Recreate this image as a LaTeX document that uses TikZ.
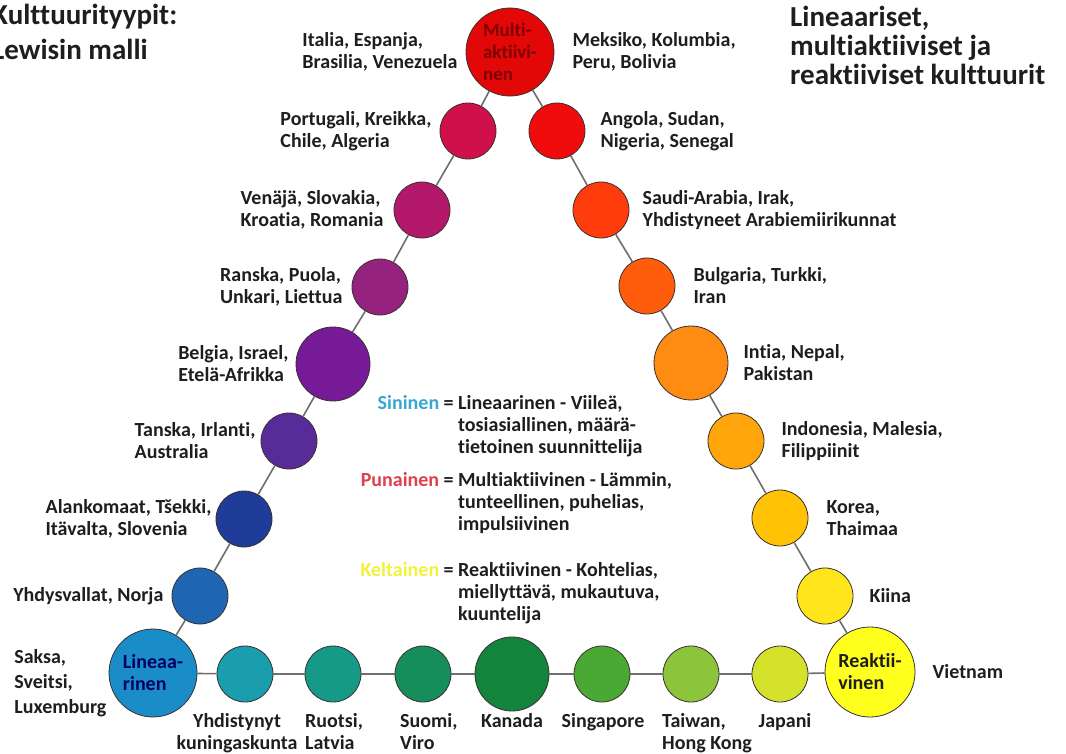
\documentclass[tikz,border=0pt]{standalone}
\usepackage{fontspec}
\setmainfont{Carlito}[Ligatures=NoCommon]
\usetikzlibrary{positioning}

\definecolor{teksti}{HTML}{1E1E1E}
\definecolor{viiva}{HTML}{6E6E6E}
\definecolor{reuna}{HTML}{3A3030}
\definecolor{cMulti}{HTML}{E20808}
\definecolor{cPort}{HTML}{D0104A}
\definecolor{cVen}{HTML}{B4186A}
\definecolor{cRan}{HTML}{962280}
\definecolor{cBel}{HTML}{761A98}
\definecolor{cTan}{HTML}{582C98}
\definecolor{cAla}{HTML}{1E3C98}
\definecolor{cYhv}{HTML}{1E66B2}
\definecolor{cLin}{HTML}{1A8CC8}
\definecolor{cYhd}{HTML}{1A9EAE}
\definecolor{cRuo}{HTML}{169A88}
\definecolor{cSuo}{HTML}{168E5C}
\definecolor{cKan}{HTML}{12843C}
\definecolor{cSin}{HTML}{4AA834}
\definecolor{cTai}{HTML}{8CC43C}
\definecolor{cJap}{HTML}{D4E22C}
\definecolor{cReak}{HTML}{FFFF1E}
\definecolor{cKii}{HTML}{FFE61C}
\definecolor{cKor}{HTML}{FFC204}
\definecolor{cInd}{HTML}{FFA60C}
\definecolor{cInt}{HTML}{FF8C12}
\definecolor{cBul}{HTML}{FF5C0C}
\definecolor{cSau}{HTML}{FF3C0C}
\definecolor{cAng}{HTML}{F00C0C}
\definecolor{sininen}{HTML}{3AA6D2}
\definecolor{punainen}{HTML}{E0404E}
\definecolor{keltainen}{HTML}{F2F23C}

\tikzset{
  pallo/.style={circle,draw=reuna,line width=0.8pt,minimum size=56pt,inner sep=0pt},
  iso/.style={pallo,minimum size=74pt},
  paa/.style={pallo,minimum size=88pt,align=left},
  maa/.style={align=left,inner sep=0pt,text=teksti},
  yhteys/.style={draw=viiva,line width=1.6pt},
  otsikko/.style={align=left,inner sep=0pt,text=teksti,font=\fontsize{29}{35}\selectfont\bfseries}
}

\begin{document}
\begin{tikzpicture}[x=1pt,y=-1pt,font=\fontsize{20}{22}\selectfont\bfseries]
    \path[use as bounding box,fill=white] (0,0) rectangle (1066,753);

    % otsikot
    \node[otsikko,anchor=north west] (vasOts) at (-8,4) {Kulttuurityypit:\\Lewisin malli};
    \node[otsikko,anchor=north west,font=\fontsize{29}{29}\selectfont\bfseries] (oikOts) at (790,6) {Lineaariset,\\multiaktiiviset ja\\reaktiiviset kulttuurit};

    % kulmat
    \node[paa,fill=cMulti,text=red!50!black,font=\fontsize{19}{22}\selectfont\bfseries] (multi) at (510,52) {Multi-\\aktiivi-\\nen};
    \node[paa,fill=cLin,text=blue!40!black] (lin) at (153,673) {Lineaa-\\rinen};
    \node[paa,fill=cReak,text=teksti,minimum size=90pt] (reak) at (870,672) {Reaktii-\\vinen};

    % vasen reuna
    \node[pallo,fill=cPort] (port) at (468,131) {};
    \node[pallo,fill=cVen] (venaja) at (422,210) {};
    \node[pallo,fill=cRan] (ranska) at (380,287) {};
    \node[iso,fill=cBel] (belgia) at (333,364) {};
    \node[pallo,fill=cTan] (tanska) at (289,441) {};
    \node[pallo,fill=cAla] (alank) at (244,519) {};
    \node[pallo,fill=cYhv] (yhdysv) at (200,596) {};

    % alareuna
    \node[pallo,fill=cYhd] (yhdist) at (245,674) {};
    \node[pallo,fill=cRuo] (ruotsi) at (333,674) {};
    \node[pallo,fill=cSuo] (suomi) at (423,674) {};
    \node[iso,fill=cKan] (kanada) at (512,674) {};
    \node[pallo,fill=cSin] (singa) at (602,674) {};
    \node[pallo,fill=cTai] (taiwan) at (691,674) {};
    \node[pallo,fill=cJap] (japani) at (780,674) {};

    % oikea reuna
    \node[pallo,fill=cAng] (angola) at (557,131) {};
    \node[pallo,fill=cSau] (saudi) at (601,210) {};
    \node[pallo,fill=cBul] (bulg) at (647,286) {};
    \node[iso,fill=cInt] (intia) at (691,363) {};
    \node[pallo,fill=cInd] (indo) at (736,441) {};
    \node[pallo,fill=cKor] (korea) at (780,518) {};
    \node[pallo,fill=cKii] (kiina) at (825,596) {};

    % maat
    \node[maa,left=8pt of multi] (multiV) {Italia, Espanja,\\Brasilia, Venezuela};
    \node[maa,right=18pt of multi] (multiO) {Meksiko, Kolumbia,\\Peru, Bolivia};
    \node[maa,left=8pt of port] (portT) {Portugali, Kreikka,\\Chile, Algeria};
    \node[maa,left=10pt of venaja] (venajaT) {Venäjä, Slovakia,\\Kroatia, Romania};
    \node[maa,left=9pt of ranska] (ranskaT) {Ranska, Puola,\\Unkari, Liettua};
    \node[maa,left=7pt of belgia] (belgiaT) {Belgia, Israel,\\Etelä-Afrikka};
    \node[maa,left=5pt of tanska] (tanskaT) {Tanska, Irlanti,\\Australia};
    \node[maa,left=4pt of alank] (alankT) {Alankomaat, Tšekki,\\Itävalta, Slovenia};
    \node[maa,left=8pt of yhdysv] (yhdysvT) {Yhdysvallat, Norja};
    \node[maa,left=2pt of lin,yshift=-10pt,font=\fontsize{20}{25}\selectfont\bfseries] (linT) {Saksa,\\Sveitsi,\\Luxemburg};

    \node[maa,align=center,anchor=north] (yhdistT) at (237,713) {Yhdistynyt\\kuningaskunta};
    \node[maa,anchor=north west] (ruotsiT) at (305,713) {Ruotsi,\\Latvia};
    \node[maa,anchor=north west] (suomiT) at (400,713) {Suomi,\\Viro};
    \node[maa,anchor=north] (kanadaT) at (512,713) {Kanada};
    \node[maa,anchor=north] (singaT) at (603,713) {Singapore};
    \node[maa,anchor=north west] (taiwanT) at (662,713) {Taiwan,\\Hong Kong};
    \node[maa,anchor=north] (japaniT) at (785,713) {Japani};
    \node[maa,right=17pt of reak] (reakT) {Vietnam};

    \node[maa,right=15pt of angola] (angolaT) {Angola, Sudan,\\Nigeria, Senegal};
    \node[maa,right=13pt of saudi] (saudiT) {Saudi-Arabia, Irak,\\Yhdistyneet Arabiemiirikunnat};
    \node[maa,right=18pt of bulg] (bulgT) {Bulgaria, Turkki,\\Iran};
    \node[maa,right=15pt of intia] (intiaT) {Intia, Nepal,\\Pakistan};
    \node[maa,right=17pt of indo] (indoT) {Indonesia, Malesia,\\Filippiinit};
    \node[maa,right=18pt of korea] (koreaT) {Korea,\\Thaimaa};
    \node[maa,right=16pt of kiina] (kiinaT) {Kiina};

    % selitteet
    \node[maa,anchor=north west] (selSin) at (361,394) {\begin{tabular}{@{}r@{}l@{}}\makebox[78pt][r]{\textcolor{sininen}{Sininen}}\ =\ \ & Lineaarinen - Viileä,\\ & tosiasiallinen, määrä-\\ & tietoinen suunnittelija\end{tabular}};
    \node[maa,anchor=north west] (selPun) at (361,471) {\begin{tabular}{@{}r@{}l@{}}\makebox[78pt][r]{\textcolor{punainen}{Punainen}}\ =\ \ & Multiaktiivinen - Lämmin,\\ & tunteellinen, puhelias,\\ & impulsiivinen\end{tabular}};
    \node[maa,anchor=north west] (selKel) at (361,561) {\begin{tabular}{@{}r@{}l@{}}\makebox[78pt][r]{\textcolor{keltainen}{Keltainen}}\ =\ \ & Reaktiivinen - Kohtelias,\\ & miellyttävä, mukautuva,\\ & kuuntelija\end{tabular}};

    % yhteydet
    \draw[yhteys] (multi) -- (port);
    \draw[yhteys] (port) -- (venaja);
    \draw[yhteys] (venaja) -- (ranska);
    \draw[yhteys] (ranska) -- (belgia);
    \draw[yhteys] (belgia) -- (tanska);
    \draw[yhteys] (tanska) -- (alank);
    \draw[yhteys] (alank) -- (yhdysv);
    \draw[yhteys] (yhdysv) -- (lin);
    \draw[yhteys] (lin) -- (yhdist);
    \draw[yhteys] (yhdist) -- (ruotsi);
    \draw[yhteys] (ruotsi) -- (suomi);
    \draw[yhteys] (suomi) -- (kanada);
    \draw[yhteys] (kanada) -- (singa);
    \draw[yhteys] (singa) -- (taiwan);
    \draw[yhteys] (taiwan) -- (japani);
    \draw[yhteys] (japani) -- (reak);
    \draw[yhteys] (reak) -- (kiina);
    \draw[yhteys] (kiina) -- (korea);
    \draw[yhteys] (korea) -- (indo);
    \draw[yhteys] (indo) -- (intia);
    \draw[yhteys] (intia) -- (bulg);
    \draw[yhteys] (bulg) -- (saudi);
    \draw[yhteys] (saudi) -- (angola);
    \draw[yhteys] (angola) -- (multi);

\end{tikzpicture}
\end{document}
